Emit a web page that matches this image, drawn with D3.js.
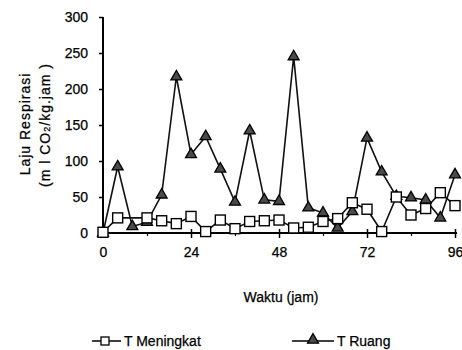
<!DOCTYPE html>
<html><head><meta charset="utf-8">
<script src="https://cdn.jsdelivr.net/npm/d3@7"></script>
<style>
body{margin:0;background:#fff;}
text{font-family:"Liberation Sans Narrow","Arial Narrow","Liberation Sans",Arial,sans-serif;fill:#000;stroke:#000;stroke-width:0.25px;}
</style></head>
<body><svg id="c" width="462" height="350"></svg>
<script>
const meningkatT = [0,4,12,16,20,24,28,32,36,40,44,48,52,56,60,64,68,72,76,80,84,88,92,96];
const meningkatV = [1,21,21,17,13,23,2,18,6,16,17,18,7,8,16,20,42,33,2,50,25,34,56,38];
const ruangT = [0,4,8,12,16,20,24,28,32,36,40,44,48,52,56,60,64,68,72,76,80,84,88,92,96];
const ruangV = [0,92,9,15,53,217,109,134,89,43,142,46,44,245,35,28,7,30,132,85,51,49,46,21,81];
const xMajor = [0,24,48,72,96];
const xMinor = [12,36,60,84];
const yTicks = [0,50,100,150,200,250,300];

const svg = d3.select("#c");
const x = d3.scaleLinear().domain([0,96]).range([103,455]);
const y = d3.scaleLinear().domain([0,300]).range([233,17]);

// Y axis
const ya = svg.append("g").attr("transform","translate(103,0)")
  .call(d3.axisLeft(y).tickValues(yTicks).tickSize(4).tickPadding(11).tickFormat(d3.format("d")));
ya.select(".domain").attr("d","M0,17V233").attr("stroke","#000").attr("stroke-width",2);
ya.selectAll(".tick line").attr("stroke","#000").attr("stroke-width",1.5);
ya.selectAll(".tick text").attr("font-size",14).attr("font-family",null);

// X axis
const xa = svg.append("g").attr("transform","translate(0,233)")
  .call(d3.axisBottom(x).tickValues(xMajor).tickSize(5).tickPadding(9).tickFormat(d3.format("d")));
xa.select(".domain").attr("d","M103,0H457").attr("stroke","#000").attr("stroke-width",2);
xa.selectAll(".tick line").attr("y1",-4).attr("stroke","#000").attr("stroke-width",1.5);
xa.selectAll(".tick text").attr("font-size",14).attr("font-family",null);
const xm = svg.append("g").attr("transform","translate(0,233)")
  .call(d3.axisBottom(x).tickValues(xMinor).tickSize(3).tickFormat(""));
xm.select(".domain").remove();
xm.selectAll(".tick line").attr("stroke","#000").attr("stroke-width",1.2);

// Axis titles
svg.append("text").attr("x",281).attr("y",302).attr("text-anchor","middle").attr("font-size",14).text("Waktu (jam)");
svg.append("text").attr("transform","translate(30,124) rotate(-90)").attr("text-anchor","middle")
  .attr("font-size",14).attr("letter-spacing",1).text("Laju Respirasi");
const t2 = svg.append("text").attr("transform","translate(50,125) rotate(-90)").attr("text-anchor","middle")
  .attr("font-size",14).attr("letter-spacing",1);
t2.append("tspan").text("(m l CO");
t2.append("tspan").attr("font-size",9).text("2");
t2.append("tspan").text("/kg.jam )");

// Lines
const line = d3.line().x(d=>x(d[0])).y(d=>y(d[1]));
const mData = meningkatT.map((t,i)=>[t,meningkatV[i]]);
const rData = ruangT.map((t,i)=>[t,ruangV[i]]);
svg.append("path").datum(rData).attr("d",line).attr("fill","none").attr("stroke","#111").attr("stroke-width",1.6);
svg.append("path").datum(mData).attr("d",line).attr("fill","none").attr("stroke","#111").attr("stroke-width",1.6);

const tri = d3.symbol().type(d3.symbolTriangle).size(52);
svg.append("g").selectAll("path").data(rData).join("path")
  .attr("d",tri).attr("transform",d=>`translate(${x(d[0])},${y(d[1])})`)
  .attr("fill","#4a4a4a").attr("stroke","#000").attr("stroke-width",1.3);
svg.append("g").selectAll("rect").data(mData).join("rect")
  .attr("x",d=>x(d[0])-5).attr("y",d=>y(d[1])-5).attr("width",10).attr("height",10)
  .attr("fill","#fff").attr("stroke","#000").attr("stroke-width",1.4);

// Legend
const lg = svg.append("g");
lg.append("line").attr("x1",92).attr("x2",121).attr("y1",341).attr("y2",341).attr("stroke","#000").attr("stroke-width",1.5);
lg.append("rect").attr("x",101).attr("y",337).attr("width",8).attr("height",8).attr("fill","#fff").attr("stroke","#000").attr("stroke-width",1.3);
lg.append("text").attr("x",124).attr("y",346).attr("font-size",14).text("T Meningkat");
lg.append("line").attr("x1",292).attr("x2",334).attr("y1",341).attr("y2",341).attr("stroke","#000").attr("stroke-width",1.5);
lg.append("path").attr("d",tri).attr("transform","translate(313,340)").attr("fill","#4a4a4a").attr("stroke","#000").attr("stroke-width",1.3);
lg.append("text").attr("x",337).attr("y",346).attr("font-size",14).text("T Ruang");
</script></body></html>
